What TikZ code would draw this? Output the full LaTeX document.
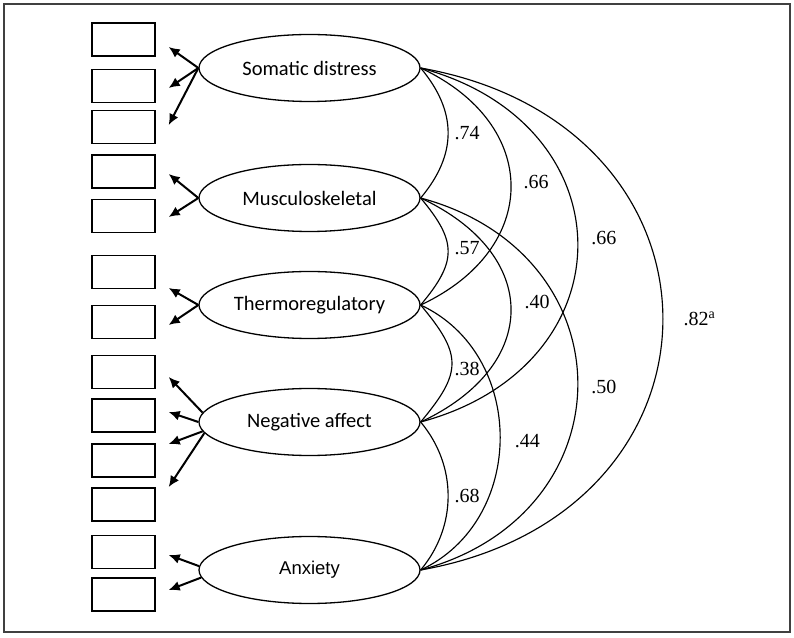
\documentclass[tikz,border=0pt]{standalone}
\usepackage{fontspec}
\setmainfont{Liberation Serif}
\newfontfamily\factorfont{Carlito}
\newfontfamily\anxfont{Liberation Sans}
\usetikzlibrary{shapes.geometric, arrows.meta, positioning}

\tikzset{
  factor/.style={draw, ellipse, line width=1.3pt, minimum width=221pt, minimum height=67pt,
    inner sep=0pt, font=\factorfont\fontsize{20.5}{24}\selectfont},
  item/.style={draw, line width=1.4pt, minimum width=63pt, minimum height=33pt, inner sep=0pt},
  load/.style={-{Latex[length=11pt,width=10pt]}, line width=2pt},
  corr/.style={line width=1.15pt},
  coef/.style={inner sep=0pt, font=\fontsize{20}{24}\selectfont},
}

\begin{document}
\begin{tikzpicture}[x=1pt, y=1pt]
\useasboundingbox (0,0) rectangle (794,637);
\draw[line width=2.2pt, black!75] (4,5) rectangle (790,633);
%
\foreach \n/\y in {1/597.5, 2/551, 3/510, 4/465.5, 5/421, 6/365, 7/315,
                   8/265, 9/221.5, 10/176.5, 11/132.5, 12/85, 13/42.5}
  \node[item] (o\n) at (123.5,\y) {};
%
\node[factor] (sd) at (309.5,569) {Somatic distress};
\node[factor] (ms) at (309.5,439) {Musculoskeletal};
\node[factor] (tr) at (309.5,332) {Thermoregulatory};
\node[factor] (na) at (309.5,215) {Negative affect};
\node[factor, font=\anxfont\fontsize{18.5}{22}\selectfont] (ax) at (309.5,67) {Anxiety};
%
\draw[load] (sd.west) -- ([xshift=13pt,yshift=-7.5pt]o1.east);
\draw[load] (sd.west) -- ([xshift=13pt,yshift=-2pt]o2.east);
\draw[load] (sd.west) -- ([xshift=13pt,yshift=2pt]o3.east);
\draw[load] (ms.west) -- ([xshift=13pt,yshift=-2.5pt]o4.east);
\draw[load] (ms.west) -- ([xshift=13pt,yshift=-1pt]o5.east);
\draw[load] (tr.west) -- ([xshift=13pt,yshift=-16pt]o6.east);
\draw[load] (tr.west) -- ([xshift=13pt,yshift=-3pt]o7.east);
\draw[load] (na.175) -- ([xshift=13pt,yshift=-5pt]o8.east);
\draw[load] (na.180) -- ([xshift=13pt,yshift=3.5pt]o9.east);
\draw[load] (na.185) -- ([xshift=13pt,yshift=16.5pt]o10.east);
\draw[load] (na.186) -- ([xshift=13pt,yshift=17.5pt]o11.east);
\draw[load] (ax.178) -- ([xshift=13pt,yshift=-3pt]o12.east);
\draw[load] (ax.184) -- ([xshift=13pt,yshift=4.5pt]o13.east);
%
\draw[corr] (sd.east) to[out=-50, in=50, distance=57pt] node[coef, midway, right=6pt] {.74} (ms.east);
\draw[corr] (ms.east) to[out=-50, in=50, distance=57pt] node[coef, midway, right=6pt, yshift=3pt] {.57} (tr.east);
\draw[corr] (tr.east) to[out=-50, in=50, distance=65pt] node[coef, midway, right=2pt, yshift=-5pt] {.38} (na.east);
\draw[corr] (na.east) to[out=-50, in=50, distance=57pt] node[coef, midway, right=6pt] {.68} (ax.east);
\draw[corr] (sd.east) to[out=-25, in=25, distance=133pt] node[coef, midway, right=12pt, yshift=4pt] {.66} (tr.east);
\draw[corr] (ms.east) to[out=-25, in=25, distance=133pt] node[coef, midway, right=13pt, yshift=8pt] {.40} (na.east);
\draw[corr] (tr.east) to[out=-25, in=25, distance=117pt] node[coef, midway, right=14pt, yshift=-4pt] {.44} (ax.east);
\draw[corr] (sd.east) to[out=-15, in=15, distance=217pt] node[coef, midway, right=13pt, yshift=7pt] {.66} (na.east);
\draw[corr] (ms.east) to[out=-15, in=15, distance=217pt] node[coef, midway, right=13pt, yshift=-3pt] {.50} (ax.east);
\draw[corr] (sd.east) to[out=-10, in=10, distance=328pt] node[coef, midway, right=20pt] {.82$^{\mathrm{a}}$} (ax.east);
\end{tikzpicture}
\end{document}
